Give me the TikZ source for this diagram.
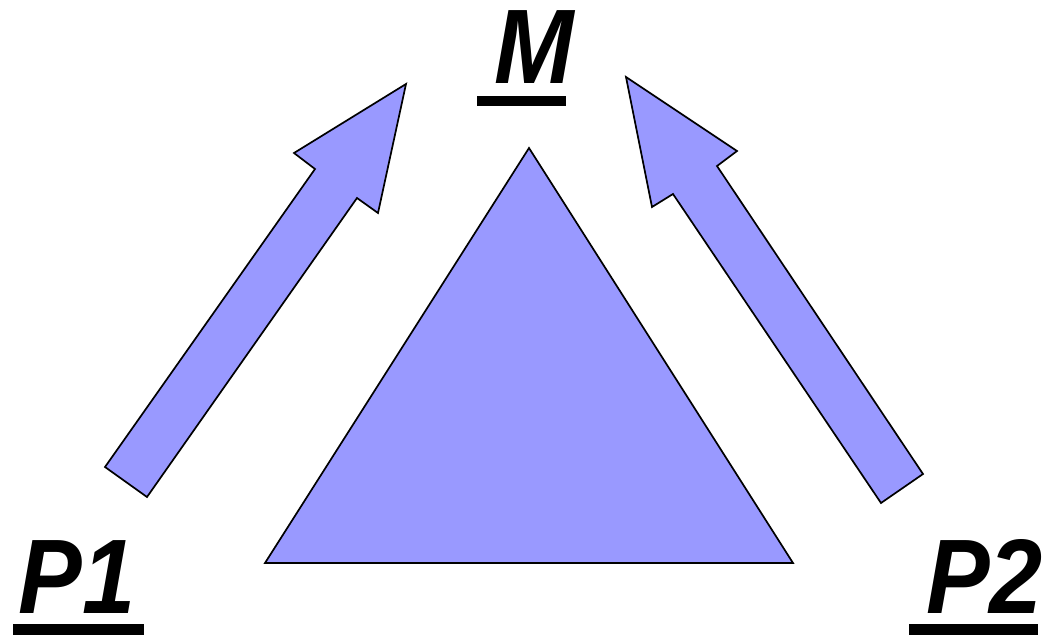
\documentclass[tikz,border=0pt]{standalone}
\usepackage{fontspec}
\setmainfont{Liberation Sans}
\definecolor{shapefill}{HTML}{9999FF}
\tikzset{
  shapestyle/.style={draw=black, fill=shapefill, line width=1.7pt, line join=miter},
  labeltext/.style={inner sep=0pt, outer sep=0pt, anchor=base west, font=\fontsize{106}{120}\selectfont\bfseries\itshape},
  ulbar/.style={fill=black, draw=none}
}
\newcommand{\narrowtext}[1]{\scalebox{0.9}[1]{#1}}
\begin{document}
\begin{tikzpicture}[x=1pt, y=-1pt]
\useasboundingbox (0,0) rectangle (1044,637);
% triangle
\draw[shapestyle] (529,148) -- (793,563) -- (265,563) -- cycle;
% left arrow
\draw[shapestyle] (105,467) -- (315,169) -- (294,153) -- (406,84) -- (378,213) -- (357,198) -- (147,497) -- cycle;
% right arrow
\draw[shapestyle] (923,474) -- (717,166) -- (737,151) -- (626,77) -- (652,207) -- (673,194) -- (881,503) -- cycle;
% labels
\node[labeltext] (m) at (494,83) {\narrowtext{M}};
\node[labeltext] (p1) at (19,613) {\narrowtext{P1}};
\node[labeltext] (p2) at (926,613) {\narrowtext{P2}};
% underlines
\fill[ulbar] (477,96) rectangle (566,106);
\fill[ulbar] (13,624) rectangle (144,635);
\fill[ulbar] (909,624) rectangle (1038,635);
\end{tikzpicture}
\end{document}
